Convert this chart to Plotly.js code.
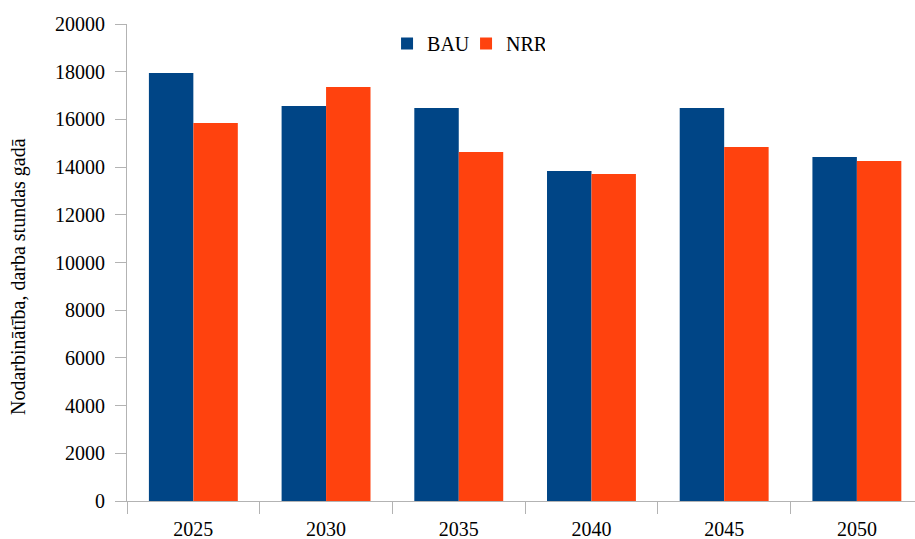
<!DOCTYPE html>
<html>
<head>
<meta charset="utf-8">
<script src="https://cdn.plot.ly/plotly-3.0.1.min.js"></script>
<style>html,body{margin:0;padding:0;background:#fff;}#chart{width:915px;height:539px;}</style>
</head>
<body>
<div id="chart"></div>
<script>
var years = ["2025", "2030", "2035", "2040", "2045", "2050"];
var bauValues = [17950, 16560, 16480, 13840, 16480, 14420];
var nrrValues = [15850, 17360, 14630, 13710, 14840, 14260];
var seriesNames = ["BAU", "NRR"];

var fontFam = "Liberation Serif, Times New Roman, serif";
var axisColor = "#b3b3b3";

var traces = [
  {type: "bar", name: seriesNames[0], x: years, y: bauValues, marker: {color: "#004586"}},
  {type: "bar", name: seriesNames[1], x: years, y: nrrValues, marker: {color: "#ff420e"}}
];

var layout = {
  width: 915, height: 539,
  margin: {l: 127, r: 0, t: 24, b: 38},
  paper_bgcolor: "#fff", plot_bgcolor: "#fff",
  font: {family: fontFam, size: 20, color: "#000"},
  barmode: "group", bargap: 0.33, bargroupgap: 0,
  showlegend: true,
  legend: {orientation: "h", x: 0.33, y: 1.0, xanchor: "left", yanchor: "top", font: {size: 20, family: fontFam}, itemwidth: 30, entrywidth: 34, bgcolor: "rgba(0,0,0,0)"},
  xaxis: {
    type: "category", range: [-0.5, 5.438], tickson: "boundaries",
    showline: true, linecolor: axisColor, linewidth: 1,
    ticks: "outside", ticklen: 12, tickcolor: axisColor,
    showgrid: false, zeroline: false, ticklabelstandoff: 10,
    tickfont: {size: 20, family: fontFam}, fixedrange: true
  },
  yaxis: {
    range: [0, 20000], dtick: 2000, tick0: 0,
    showline: true, linecolor: axisColor, linewidth: 1,
    ticks: "outside", ticklen: 11, tickcolor: axisColor,
    showgrid: false, zeroline: false, ticklabelstandoff: 6,
    tickfont: {size: 20, family: fontFam}, tickformat: "d"
  },
  annotations: [{
    text: "Nodarbinātība, darba stundas gadā",
    xref: "paper", yref: "paper",
    x: (18 - 127) / 788, y: (501 - 277) / 477,
    xanchor: "center", yanchor: "middle", textangle: -90, showarrow: false,
    font: {size: 20, family: fontFam}
  }]
};

Plotly.newPlot("chart", traces, layout, {displayModeBar: false, staticPlot: true});
</script>
</body>
</html>
